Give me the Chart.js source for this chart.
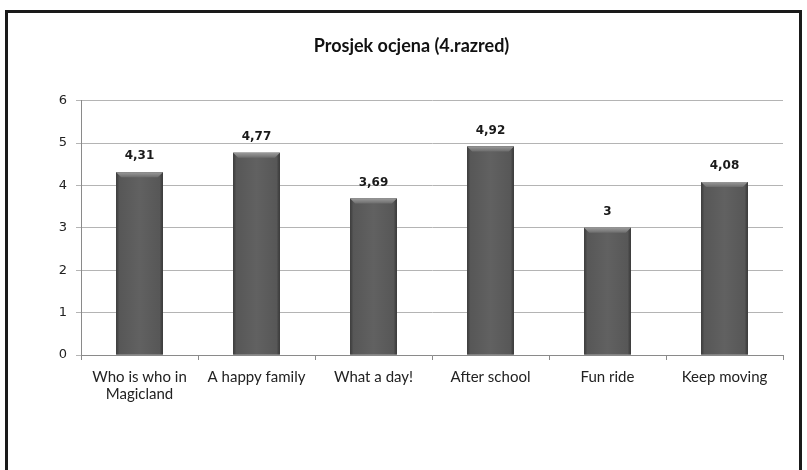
<!DOCTYPE html>
<html>
<head>
<meta charset="utf-8">
<script src="https://cdn.jsdelivr.net/npm/chart.js@4/dist/chart.umd.min.js"></script>
<style>
html,body{margin:0;padding:0;background:#fff;}
#wrap{position:relative;width:807px;height:470px;}
#frame{position:absolute;left:5px;top:10px;width:797px;height:470px;border-left:3px solid #1a1a1a;border-top:3px solid #1a1a1a;border-right:3px solid #1a1a1a;box-sizing:border-box;}
canvas{position:absolute;left:0;top:0;}
</style>
</head>
<body>
<div id="wrap">
<div id="frame"></div>
<canvas id="c" width="807" height="470"></canvas>
</div>
<script>
const categories = [["Who is who in","Magicland"],"A happy family","What a day!","After school","Fun ride","Keep moving"];
const values = [4.31, 4.77, 3.69, 4.92, 3, 4.08];
const valueLabels = ["4,31","4,77","3,69","4,92","3","4,08"];
const yTicks = [0,1,2,3,4,5,6];
const chartTitle = "Prosjek ocjena (4.razred)";

const barStyle = {
  id:'barStyle',
  afterDatasetsDraw(chart){
    const ctx = chart.ctx;
    const meta = chart.getDatasetMeta(0);
    ctx.save();
    meta.data.forEach((el,i)=>{
      const l = el.x - el.width/2, r = el.x + el.width/2, t = el.y, b = el.base;
      const g = ctx.createLinearGradient(l,0,r,0);
      g.addColorStop(0,'#3a3a3a');
      g.addColorStop(0.07,'#575757');
      g.addColorStop(0.5,'#616161');
      g.addColorStop(0.93,'#575757');
      g.addColorStop(1,'#363636');
      ctx.fillStyle = g;
      ctx.fillRect(l,t,r-l,b-t);
      const h = 5;
      const g2 = ctx.createLinearGradient(0,t,0,t+h);
      g2.addColorStop(0,'#9a9a9a');
      g2.addColorStop(1,'#6c6c6c');
      ctx.fillStyle = g2;
      ctx.beginPath();
      ctx.moveTo(l,t); ctx.lineTo(r,t); ctx.lineTo(r-h,t+h); ctx.lineTo(l+h,t+h); ctx.closePath();
      ctx.fill();
      ctx.fillStyle = '#1a1a1a';
      ctx.font = 'bold 12px "DejaVu Sans"';
      ctx.textAlign = 'center';
      ctx.textBaseline = 'middle';
      ctx.fillText(valueLabels[i], el.x, t - 16);
    });
    ctx.restore();
  }
};

new Chart(document.getElementById('c'), {
  type:'bar',
  data:{
    labels: categories,
    datasets:[{
      data: values,
      backgroundColor:'#555555',
      borderWidth:0,
      barPercentage:0.4,
      categoryPercentage:1.0
    }]
  },
  options:{
    responsive:false,
    animation:false,
    devicePixelRatio:1,
    layout:{padding:{left:40,right:24,top:0,bottom:0}},
    plugins:{
      legend:{display:false},
      tooltip:{enabled:false},
      title:{
        display:true,
        text:chartTitle,
        color:'#111',
        font:{family:'Lato',size:18,weight:'bold',lineHeight:1.2},
        padding:{top:35,bottom:44}
      }
    },
    scales:{
      x:{
        grid:{display:true,drawOnChartArea:false,drawTicks:true,tickLength:5,color:'#8a8a8a',offset:true},
        border:{display:true,color:'#8a8a8a',width:1},
        ticks:{color:'#222',font:{family:'Lato',size:15,lineHeight:1.1},padding:9,maxRotation:0,autoSkip:false},
        afterFit(s){ s.height = 115; }
      },
      y:{
        min:0,max:6,
        afterBuildTicks(s){ s.ticks = yTicks.map(v=>({value:v})); },
        grid:{color:'#b4b4b4',lineWidth:1,drawTicks:true,tickLength:5},
        border:{display:true,color:'#8a8a8a',width:1},
        ticks:{color:'#222',font:{family:'DejaVu Sans',size:13},padding:9},
        afterFit(s){ s.width = 41; }
      }
    }
  },
  plugins:[barStyle]
});
</script>
</body>
</html>
